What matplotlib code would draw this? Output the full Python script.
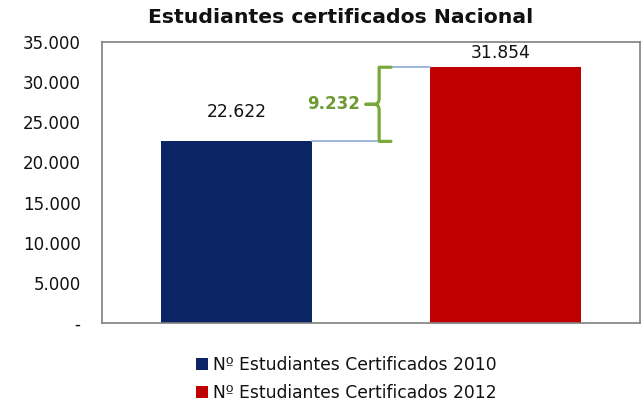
import matplotlib
matplotlib.use("Agg")
import matplotlib.pyplot as plt
from matplotlib.patches import Patch, PathPatch
from matplotlib.path import Path
from matplotlib.ticker import FuncFormatter

series = ["Nº Estudiantes Certificados 2010", "Nº Estudiantes Certificados 2012"]
values = [22622, 31854]
value_labels = ["22.622", "31.854"]
diff_label = "9.232"
colors = ["#0B2463", "#C00000"]
title = "Estudiantes certificados Nacional"

fig = plt.figure(figsize=(6.42, 4.03), dpi=100)
ax = fig.add_axes([0.159, 0.1985, 0.838, 0.6973])

pos = [0, 1]
w = 0.561
ax.bar(pos, values, width=w, color=colors, zorder=2)
ax.set_xlim(-0.5, 1.5)
ax.set_ylim(0, 35000)
ax.set_yticks(range(0, 35001, 5000))
ax.yaxis.set_major_formatter(FuncFormatter(lambda v, p: "-" if v == 0 else f"{int(v):,}".replace(",", ".")))
ax.tick_params(axis="y", length=0, pad=15.5, labelsize=12, labelcolor="#111111")
ax.set_xticks([])
for s in ax.spines.values():
    s.set_color("#7f7f7f")
    s.set_linewidth(1.2)

label_offsets = [3600, 1750]
label_dx = [0, -0.02]
for p, v, lab, off, dx in zip(pos, values, value_labels, label_offsets, label_dx):
    ax.text(p + dx, v + off, lab, ha="center", va="center", fontsize=12.3, color="#111111")

# connectors
conn = "#8EA9D8"
ax.plot([pos[0] + w / 2, 0.522], [values[0], values[0]], color=conn, lw=1.2, zorder=3)
ax.plot([0.541, pos[1] - w / 2], [values[1], values[1]], color=conn, lw=1.2, zorder=3)

# brace
green = "#7BA83B"
xb, xr, xt = 0.530, 0.574, 0.481
y0, y1 = values[0], values[1]
ym = (y0 + y1) / 2
r = 700
dx = 0.02
verts = [
    (xr, y1), (xb, y1), (xb, y1), (xb, y1 - r),
    (xb, ym + r),
    (xb, ym), (xb - dx, ym), (xt, ym),
    (xb - dx, ym), (xb, ym), (xb, ym - r),
    (xb, y0 + r),
    (xb, y0), (xb, y0), (xr, y0),
]
codes = [Path.MOVETO, Path.LINETO, Path.CURVE3, Path.CURVE3,
         Path.LINETO,
         Path.CURVE3, Path.CURVE3, Path.LINETO,
         Path.LINETO, Path.CURVE3, Path.CURVE3,
         Path.LINETO,
         Path.CURVE3, Path.CURVE3, Path.LINETO]
ax.add_patch(PathPatch(Path(verts, codes), fill=False, edgecolor=green, lw=2.3, zorder=4, capstyle="round", joinstyle="round"))
ax.text(0.459, ym, diff_label, ha="right", va="center", fontsize=12, fontweight="bold", color="#6E9A33")

fig.text(0.53, 0.956, title, ha="center", va="center", fontsize=14.7, fontweight="bold", color="#111111")

handles = [Patch(facecolor=c, edgecolor="none") for c in colors]
fig.legend(handles, series, loc="center", bbox_to_anchor=(0.539, 0.06), frameon=False,
           fontsize=12.3, handlelength=0.7, handleheight=0.7, handletextpad=0.3,
           labelspacing=0.6, labelcolor="#111111")

fig.savefig("out.png", dpi=100)
